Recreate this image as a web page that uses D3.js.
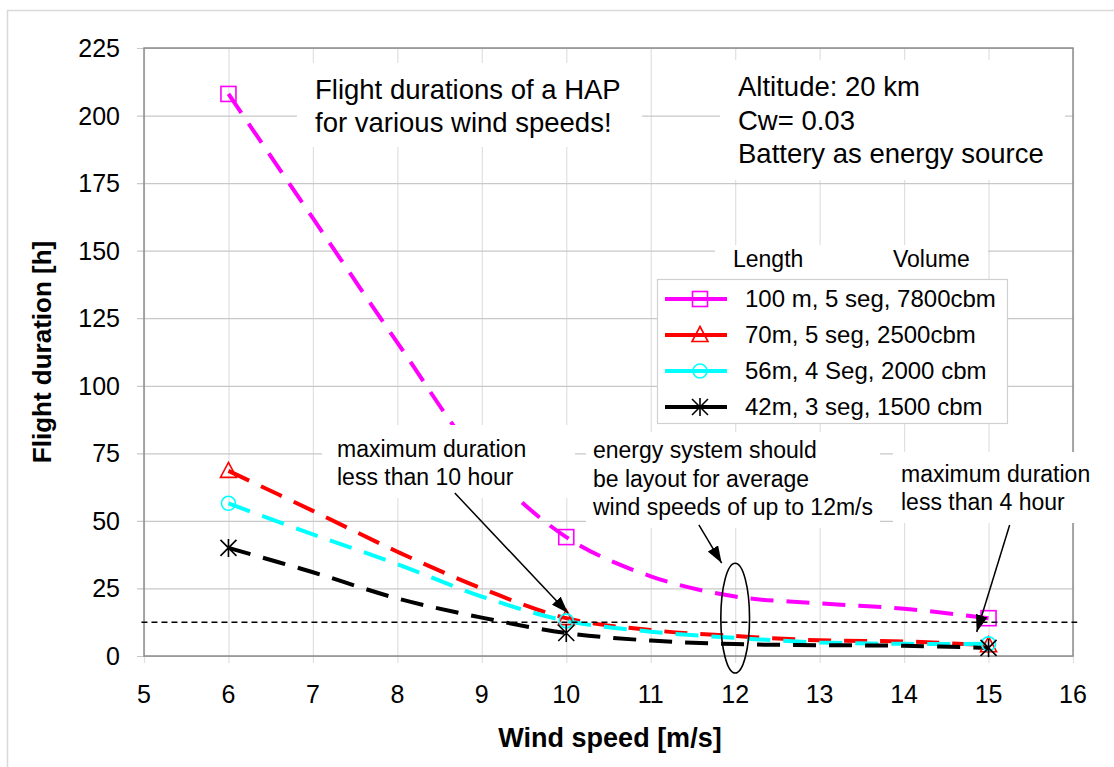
<!DOCTYPE html>
<html>
<head>
<meta charset="utf-8">
<script src="https://cdn.jsdelivr.net/npm/d3@7"></script>
<style>
  html, body { margin: 0; padding: 0; background: #fff; overflow: hidden; }
  #chart { display: block; }
  svg text { font-family: "Liberation Sans", Arial, sans-serif; fill: #000; }
</style>
</head>
<body>
<svg id="chart"></svg>
<script>
// data
const windSpeeds = [6, 7, 8, 9, 10, 11, 12, 13, 14, 15];
const hap100m = [208, 162, 116, 72, 44, 29.5, 22, 19.5, 17.5, 14];
const hap70m  = [68.5, 53.7, 38.6, 25, 14, 9.6, 7.4, 5.8, 5.4, 4];
const hap56m  = [56.5, 45, 34, 22, 13, 9, 6.7, 5, 4.5, 4.5];
const hap42m  = [40, 31, 21.3, 14.2, 8.5, 5.7, 4.4, 4, 3.8, 3];
const markedSpeeds = [6, 10, 15];
const seriesNames = [
  "100 m, 5 seg, 7800cbm",
  "70m, 5 seg, 2500cbm",
  "56m, 4 Seg, 2000 cbm",
  "42m, 3 seg, 1500 cbm"
];
const xTicks = d3.range(5, 17);
const yTicks = d3.range(0, 226, 25);
const limitValue = 12.5;

const width = 1114, height = 767;
const margin = { top: 48, right: 41, bottom: 111, left: 144 };
const innerWidth = width - margin.left - margin.right;
const innerHeight = height - margin.top - margin.bottom;

const series = [
  { name: seriesNames[0], values: hap100m, color: "#ff00ff", marker: "square" },
  { name: seriesNames[1], values: hap70m,  color: "#ff0000", marker: "triangle" },
  { name: seriesNames[2], values: hap56m,  color: "#00ffff", marker: "circle" },
  { name: seriesNames[3], values: hap42m,  color: "#000000", marker: "star" }
];

const svg = d3.select("#chart")
  .attr("width", width)
  .attr("height", height)
  .attr("viewBox", `0 0 ${width} ${height}`);

// outer chart border: only top and left edges fall inside the picture
svg.append("path")
  .attr("d", `M7.5,${height}V10.5H${width}`)
  .attr("fill", "none")
  .attr("stroke", "#d9d9d9")
  .attr("stroke-width", 1.5);

const xScale = d3.scaleLinear().domain([5, 16]).range([margin.left, margin.left + innerWidth]);
const yScale = d3.scaleLinear().domain([0, 225]).range([margin.top + innerHeight, margin.top]);

svg.append("defs").append("clipPath").attr("id", "plot-clip")
  .append("rect")
  .attr("x", margin.left).attr("y", margin.top)
  .attr("width", innerWidth).attr("height", innerHeight);

// grid (lines only)
svg.append("g")
  .attr("class", "x grid")
  .attr("transform", `translate(0,${margin.top + innerHeight})`)
  .call(d3.axisBottom(xScale).tickValues(xTicks).tickSizeInner(-innerHeight - 7).tickSizeOuter(0))
  .call(g => g.select(".domain").remove())
  .call(g => g.selectAll(".tick text").remove())
  .call(g => g.selectAll(".tick line").attr("stroke", "#e0e0e0").attr("stroke-width", 1.2).attr("transform", "translate(0,7)"));

svg.append("g")
  .attr("class", "y grid")
  .attr("transform", `translate(${margin.left},0)`)
  .call(d3.axisLeft(yScale).tickValues(yTicks).tickSizeInner(-innerWidth - 7).tickSizeOuter(0))
  .call(g => g.select(".domain").remove())
  .call(g => g.selectAll(".tick text").remove())
  .call(g => g.selectAll(".tick line").attr("stroke", "#c8c8c8").attr("stroke-width", 1.2).attr("transform", "translate(-7,0)"));

// plot frame
svg.append("rect")
  .attr("x", margin.left).attr("y", margin.top)
  .attr("width", innerWidth).attr("height", innerHeight)
  .attr("fill", "none")
  .attr("stroke", "#8c8c8c")
  .attr("stroke-width", 1.5);

// tick labels
svg.append("g").attr("class", "x labels")
  .selectAll("text")
  .data(xTicks)
  .join("text")
  .attr("x", d => xScale(d))
  .attr("y", margin.top + innerHeight + 47)
  .attr("text-anchor", "middle")
  .style("font-size", "25px")
  .text(d => d);

svg.append("g").attr("class", "y labels")
  .selectAll("text")
  .data(yTicks)
  .join("text")
  .attr("x", margin.left - 24)
  .attr("y", d => yScale(d) + 9)
  .attr("text-anchor", "end")
  .style("font-size", "25px")
  .text(d => d);

svg.append("text")
  .attr("x", 610).attr("y", 747)
  .attr("text-anchor", "middle")
  .style("font-size", "27px").style("font-weight", "bold")
  .text("Wind speed [m/s]");

svg.append("text")
  .attr("transform", "translate(51,352) rotate(-90)")
  .attr("text-anchor", "middle")
  .style("font-size", "26px").style("font-weight", "bold")
  .text("Flight duration [h]");

// markers
function drawMarker(g, type, color, cx, cy) {
  if (type === "square") {
    g.append("rect").attr("x", cx - 7.5).attr("y", cy - 7.5).attr("width", 15).attr("height", 15)
      .attr("fill", "none").attr("stroke", color).attr("stroke-width", 1.6);
  } else if (type === "triangle") {
    g.append("path").attr("d", `M${cx},${cy - 8.5}L${cx + 8},${cy + 6.5}L${cx - 8},${cy + 6.5}Z`)
      .attr("fill", "none").attr("stroke", color).attr("stroke-width", 1.6);
  } else if (type === "circle") {
    g.append("circle").attr("cx", cx).attr("cy", cy).attr("r", 7)
      .attr("fill", "none").attr("stroke", color).attr("stroke-width", 1.6);
  } else {
    const s = 8;
    g.append("path")
      .attr("d", `M${cx - s},${cy - s}L${cx + s},${cy + s}M${cx - s},${cy + s}L${cx + s},${cy - s}M${cx},${cy - s - 1}L${cx},${cy + s + 1}`)
      .attr("stroke", color).attr("stroke-width", 1.6);
  }
}

const line = d3.line()
  .x(d => xScale(d.x))
  .y(d => yScale(d.y))
  .curve(d3.curveCatmullRom.alpha(0.5));

const plot = svg.append("g").attr("clip-path", "url(#plot-clip)");

series.forEach(s => {
  const pts = windSpeeds.map((x, i) => ({ x: x, y: s.values[i] }));
  plot.append("path")
    .datum(pts)
    .attr("d", line)
    .attr("fill", "none")
    .attr("stroke", s.color)
    .attr("stroke-width", 4)
    .attr("stroke-dasharray", "23,13");
});

series.forEach(s => {
  const g = svg.append("g");
  markedSpeeds.forEach(x => {
    const i = windSpeeds.indexOf(x);
    drawMarker(g, s.marker, s.color, xScale(x), yScale(s.values[i]));
  });
});

// limit line
svg.append("line")
  .attr("x1", xScale(4.97)).attr("x2", xScale(16.05))
  .attr("y1", yScale(limitValue)).attr("y2", yScale(limitValue))
  .attr("stroke", "#000").attr("stroke-width", 1.5)
  .attr("stroke-dasharray", "6,4");

// text boxes (white background covers the grid)
const boxes = [
  [297, 63, 345, 84],
  [720, 60, 345, 120],
  [322, 425, 253, 73],
  [586, 432, 294, 96],
  [893, 452, 205, 71],
  [715, 245, 273, 34]
];
svg.append("g").selectAll("rect")
  .data(boxes)
  .join("rect")
  .attr("x", d => d[0]).attr("y", d => d[1])
  .attr("width", d => d[2]).attr("height", d => d[3])
  .attr("fill", "#fff");

function textLines(x, y, lines, size, lineHeight) {
  svg.append("g").selectAll("text")
    .data(lines)
    .join("text")
    .attr("x", x)
    .attr("y", (d, i) => y + i * lineHeight)
    .style("font-size", size + "px")
    .text(d => d);
}

textLines(315, 99, ["Flight durations of a HAP", "for various wind speeds!"], 27.5, 33);
textLines(738, 96, ["Altitude: 20 km", "Cw= 0.03", "Battery as energy source"], 27.5, 33.5);
textLines(337, 457, ["maximum duration", "less than 10 hour"], 23, 28);
textLines(593, 458, ["energy system should", "be layout for average", "wind speeds of up to 12m/s"], 23, 28.5);
textLines(901, 482, ["maximum duration", "less than 4 hour"], 23, 27.5);

// arrows and ellipse
svg.select("defs").append("marker")
  .attr("id", "arrow")
  .attr("markerUnits", "userSpaceOnUse")
  .attr("markerWidth", 17).attr("markerHeight", 12)
  .attr("refX", 17).attr("refY", 6)
  .attr("orient", "auto")
  .append("path")
  .attr("d", "M0,0L17,6L0,12Z")
  .attr("fill", "#000");

const arrows = [
  [8.68, 60.3, 10.02, 15.9],
  [11.57, 48.5, 11.84, 34.4],
  [15.25, 48.5, 14.86, 8.9]
];
svg.append("g").selectAll("line")
  .data(arrows)
  .join("line")
  .attr("x1", d => xScale(d[0])).attr("y1", d => yScale(d[1]))
  .attr("x2", d => xScale(d[2])).attr("y2", d => yScale(d[3]))
  .attr("stroke", "#000").attr("stroke-width", 1.5)
  .attr("marker-end", "url(#arrow)");

svg.append("ellipse")
  .attr("cx", xScale(12)).attr("cy", yScale(14))
  .attr("rx", xScale(12.17) - xScale(12)).attr("ry", yScale(0) - yScale(20.3))
  .attr("fill", "none").attr("stroke", "#000").attr("stroke-width", 1.6);

// legend
svg.append("text").attr("x", 733).attr("y", 267).style("font-size", "23px").text("Length");
svg.append("text").attr("x", 893).attr("y", 267).style("font-size", "23px").text("Volume");

const legend = svg.append("g").attr("class", "legend");
legend.append("rect")
  .attr("x", 657.5).attr("y", 279.5)
  .attr("width", 350).attr("height", 144)
  .attr("fill", "#fff").attr("stroke", "#d0d0d0").attr("stroke-width", 1.2);

series.forEach((s, i) => {
  const y = 299 + i * 36;
  legend.append("line")
    .attr("x1", 665).attr("x2", 727).attr("y1", y).attr("y2", y)
    .attr("stroke", s.color).attr("stroke-width", 4);
  drawMarker(legend.append("g"), s.marker, s.color, 700, y);
  legend.append("text")
    .attr("x", 745).attr("y", y + 7.5)
    .style("font-size", "24px")
    .text(s.name);
});
</script>
</body>
</html>
